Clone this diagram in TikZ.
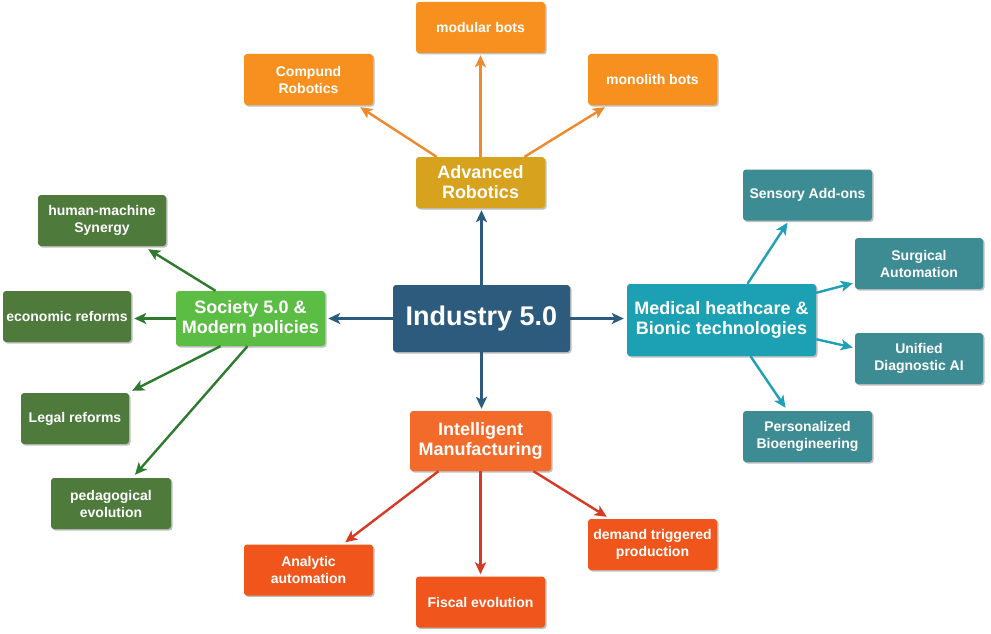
\documentclass[tikz,border=0pt]{standalone}
\usepackage{fontspec}
\setmainfont{Liberation Sans}
\usetikzlibrary{arrows.meta,shadows,calc}
\definecolor{cind}{HTML}{2C5B7D}
\definecolor{cadv}{HTML}{D7A21E}
\definecolor{corg}{HTML}{F7901E}
\definecolor{aorg}{HTML}{EE8A2C}
\definecolor{csoc}{HTML}{5CBD45}
\definecolor{cgrn}{HTML}{4E7A3C}
\definecolor{agrn}{HTML}{2E7A2E}
\definecolor{cmed}{HTML}{1BA1B3}
\definecolor{ctea}{HTML}{3D8B93}
\definecolor{atea}{HTML}{1FA0B5}
\definecolor{cim}{HTML}{F26B2A}
\definecolor{cred}{HTML}{F0561C}
\definecolor{ared}{HTML}{D63A26}
\tikzset{
  box/.style={rounded corners=3pt, text=white, align=center, inner sep=0pt,
    drop shadow={shadow xshift=1.5pt, shadow yshift=-1.5pt, opacity=0.25, fill=black}},
  leaf/.style={box, font=\bfseries\fontsize{14}{17}\selectfont, minimum width=129pt, minimum height=51pt},
  hub/.style={box, font=\bfseries\fontsize{18}{20}\selectfont},
  conn/.style={line width=2.4pt, -{Stealth[length=12pt,width=11pt,inset=3pt]}}
}
\begin{document}
\begin{tikzpicture}[x=1pt,y=-1pt]
\useasboundingbox[fill=white] (0,0) rectangle (991,634);
% central
\node[box, fill=cind, font=\bfseries\fontsize{27}{30}\selectfont, minimum width=177pt, minimum height=67pt] (ind) at (481.5,318.5) {Industry 5.0};
% hubs
\node[hub, fill=cadv, minimum width=129pt, minimum height=51pt] (adv) at (480.5,182.5) {Advanced\\Robotics};
\node[hub, fill=csoc, minimum width=149pt, minimum height=55pt] (soc) at (250.5,318.5) {Society 5.0 \&\\Modern policies};
\node[hub, fill=cmed, minimum width=189pt, minimum height=72pt] (med) at (721.5,320) {Medical heathcare \&\\Bionic technologies};
\node[hub, fill=cim, minimum width=141pt, minimum height=60pt] (im) at (480.5,441) {Intelligent\\Manufacturing};
% top leaves
\node[leaf, fill=corg] (mb) at (480.5,27.5) {modular bots};
\node[leaf, fill=corg] (cr) at (308.5,79.5) {Compund\\Robotics};
\node[leaf, fill=corg] (mo) at (652.5,79.5) {monolith bots};
% left leaves
\node[leaf, fill=cgrn, minimum width=128pt] (hm) at (102,220.5) {human-machine\\Synergy};
\node[leaf, fill=cgrn, minimum width=128pt] (eco) at (67,316.5) {economic reforms};
\node[leaf, fill=cgrn, minimum width=108pt] (leg) at (75,418.5) {Legal reforms};
\node[leaf, fill=cgrn, minimum width=120pt] (ped) at (111,503.5) {pedagogical\\evolution};
% right leaves
\node[leaf, fill=ctea] (sen) at (807.5,195) {Sensory Add-ons};
\node[leaf, fill=ctea, minimum width=128pt] (sur) at (919,263.5) {Surgical\\Automation};
\node[leaf, fill=ctea, minimum width=128pt] (uni) at (919,358.5) {Unified\\Diagnostic AI};
\node[leaf, fill=ctea] (per) at (807.5,436.5) {Personalized\\Bioengineering};
% bottom leaves
\node[leaf, fill=cred] (ana) at (308.5,570) {Analytic\\automation};
\node[leaf, fill=cred] (fis) at (480.5,602) {Fiscal evolution};
\node[leaf, fill=cred] (dem) at (652.5,544.5) {demand triggered\\production};
% central connectors
\draw[conn, cind] (ind.north) -- ([yshift=-2pt]ind.north |- adv.south);
\draw[conn, cind] (ind.south) -- ([yshift=2pt]ind.south |- im.north);
\draw[conn, cind] (ind.west) -- ([xshift=3pt]ind.west -| soc.east);
\draw[conn, cind] (ind.east) -- ([xshift=-3pt]ind.east -| med.west);
% top
\draw[conn, aorg] ([xshift=-44pt]adv.north) -- ([xshift=-13pt,yshift=-2pt]cr.south east);
\draw[conn, aorg] (adv.north) -- ([yshift=-2pt]mb.south);
\draw[conn, aorg] ([xshift=44pt]adv.north) -- ([xshift=17pt,yshift=-2pt]mo.south west);
% left
\draw[conn, agrn] ([xshift=-35pt]soc.north) -- ([xshift=-18pt,yshift=-3pt]hm.south east);
\draw[conn, agrn] (soc.west) -- ([xshift=3pt]soc.west -| eco.east);
\draw[conn, agrn] ([xshift=-30pt]soc.south) -- ([xshift=3pt,yshift=2pt]leg.north east);
\draw[conn, agrn] ([xshift=-3pt]soc.south) -- ([xshift=24pt,yshift=3pt]ped.north);
% right
\draw[conn, atea] ([xshift=26pt]med.north) -- ([xshift=-20pt,yshift=-2pt]sen.south);
\draw[conn, atea] ([yshift=-9pt]med.north east) -- ([xshift=-2pt,yshift=6pt]sur.south west);
\draw[conn, atea] ([yshift=17pt]med.south east) -- ([xshift=-2pt,yshift=11pt]uni.west);
\draw[conn, atea] ([xshift=29pt]med.south) -- ([xshift=-22pt,yshift=3pt]per.north);
% bottom
\draw[conn, ared] ([xshift=-42pt]im.south) -- ([xshift=-28pt,yshift=2pt]ana.north east);
\draw[conn, ared] (im.south) -- ([yshift=2pt]fis.north);
\draw[conn, ared] ([xshift=53pt]im.south) -- ([xshift=19pt,yshift=2pt]dem.north west);
\end{tikzpicture}
\end{document}
